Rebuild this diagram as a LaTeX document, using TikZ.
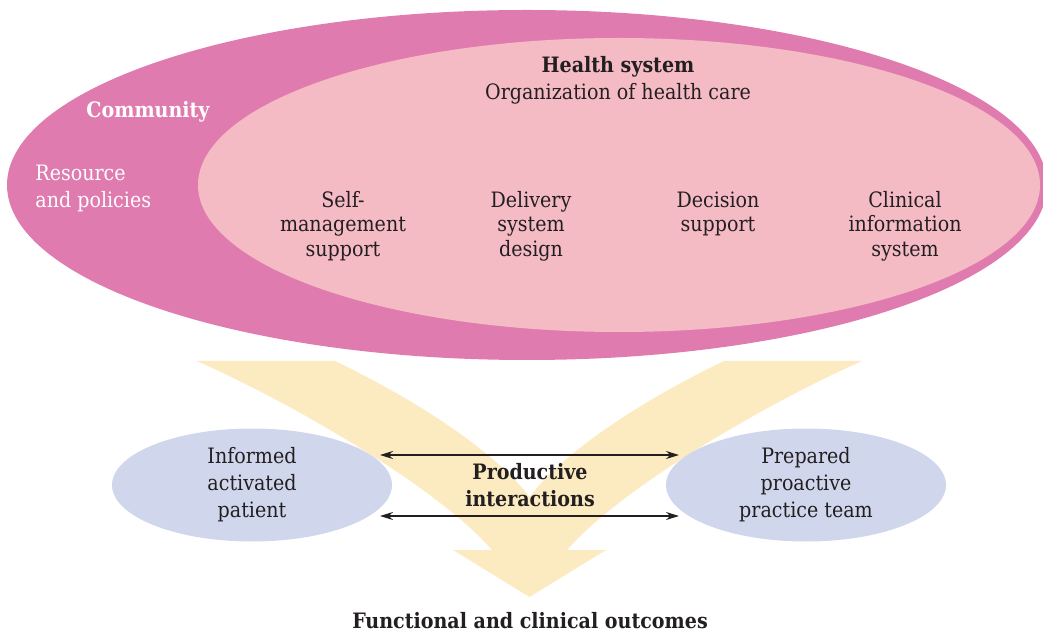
\documentclass[tikz,border=0pt]{standalone}
\usepackage{fontspec}
\setmainfont{DejaVu Serif Condensed}
\usetikzlibrary{arrows.meta,shapes.geometric,positioning}
\definecolor{community}{RGB}{224,123,176}
\definecolor{healthsys}{RGB}{245,187,196}
\definecolor{actor}{RGB}{208,214,236}
\definecolor{flow}{RGB}{252,235,193}
\definecolor{ink}{RGB}{35,31,32}

\begin{document}
\begin{tikzpicture}[x=0.5pt,y=-0.5pt,
  blob/.style={ellipse,inner sep=0pt},
  txt/.style={align=center,text=ink,font=\fontsize{10.6}{13.5}\selectfont},
  comp/.style={txt,font=\fontsize{10.6}{12.25}\selectfont},
  link/.style={{Stealth[length=6.5pt,width=4pt]}-{Stealth[length=6.5pt,width=4pt]},line width=0.75pt,draw=ink}]
\useasboundingbox (0,0) rectangle (1043,635);

\fill[flow] (197,361) .. controls (300,407) and (440,490) .. (492,550)
  -- (453,550) -- (529.5,597) -- (606,550) -- (567,550)
  .. controls (619,490) and (759,407) .. (862,361) -- (724,361)
  .. controls (659,392) and (569,445) .. (529.5,497)
  .. controls (490,445) and (400,392) .. (335,361) -- cycle;

\node[blob,fill=community,minimum width=520pt,minimum height=175pt] (comm) at (527,185) {};
\node[blob,fill=healthsys,minimum width=421pt,minimum height=147pt] (hs) at (619,185) {};

\node[txt] (hstitle) at (618,80) {\textbf{Health system}\\Organization of health care};
\node[txt,text=white,font=\fontsize{10.6}{13.5}\selectfont\bfseries] (commtitle) at (148,112) {Community};
\node[txt,text=white,align=left,anchor=west,inner xsep=0pt] (res) at (35,188) {Resource\\and policies};

\node[comp] (sms) at (343,226) {Self-\\management\\support};
\node[comp] (dsd) at (531,226) {Delivery\\system\\design};
\node[comp] (ds) at (718,214) {Decision\\support};
\node[comp] (cis) at (905,226) {Clinical\\information\\system};

\node[blob,fill=actor,minimum width=140pt,minimum height=56.5pt,txt] (pat) at (252,485) {Informed\\activated\\patient};
\node[blob,fill=actor,minimum width=140pt,minimum height=56.5pt,txt] (team) at (806,485) {Prepared\\proactive\\practice team};

\coordinate (pat1) at (380,455);
\coordinate (pat2) at (380,516);
\coordinate (team1) at (679,455);
\coordinate (team2) at (679,516);
\draw[link] (pat1) -- (team1);
\draw[link] (pat2) -- (team2);

\node[txt,font=\fontsize{10.6}{13.5}\selectfont\bfseries] (pi) at (530,485) {Productive\\interactions};
\node[txt,font=\fontsize{10.6}{13.5}\selectfont\bfseries] (out) at (530,621) {Functional and clinical outcomes};
\end{tikzpicture}
\end{document}
